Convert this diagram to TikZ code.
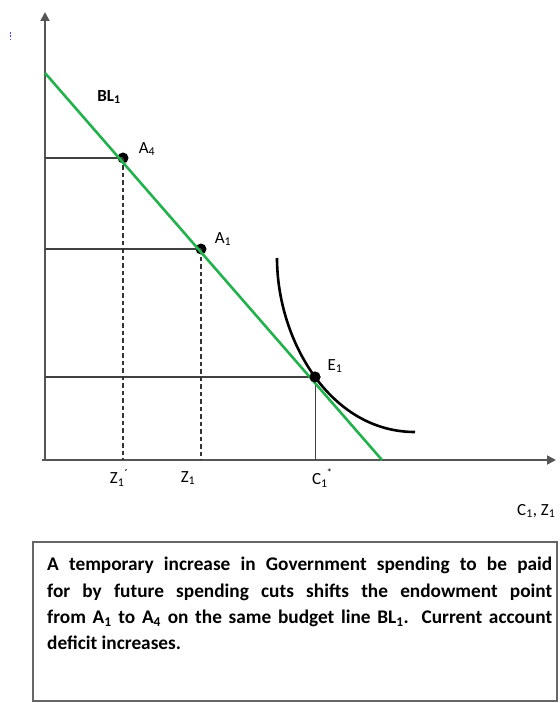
\documentclass[tikz,border=0pt]{standalone}
\usepackage{fontspec}
\setmainfont{Carlito}
\usetikzlibrary{arrows.meta}
\definecolor{blgreen}{RGB}{34,177,76}
\definecolor{axgray}{RGB}{85,85,85}
\newcommand{\sbs}[1]{\textsubscript{#1}}
\begin{document}
\begin{tikzpicture}[x=1pt,y=-1pt,
  axis/.style={axgray,line width=1.8pt,-{Triangle[length=9pt,width=9pt]}},
  guide/.style={black!75,line width=1.2pt},
  dguide/.style={black!80,line width=1.1pt,dash pattern=on 4.5pt off 3pt},
  dot/.style={circle,fill=black,inner sep=0pt,minimum size=11pt},
  lbl/.style={font=\fontsize{17}{19}\selectfont,inner sep=1pt},
  boxtext/.style={font=\fontsize{19.3}{26.3}\selectfont\bfseries,inner sep=0pt,anchor=north west,align=left}]
\useasboundingbox (0,0) rectangle (559,703);
% axes
\coordinate (O) at (45,460);
\coordinate (ytip) at (45,12);
\coordinate (xorig) at (42,460);
\coordinate (xtip) at (556,460);
\draw[axis] (O) -- (ytip);
\draw[axis] (xorig) -- (xtip);
% points
\node[dot] (A4) at (123,158) {};
\node[dot] (A1) at (201,249) {};
\node[dot] (E1) at (315,377) {};
\coordinate (A4y) at (45,158);
\coordinate (A1y) at (45,249);
\coordinate (E1y) at (45,377);
\coordinate (A4x) at (123,460);
\coordinate (A1x) at (201,460);
\coordinate (E1x) at (315,460);
\draw[guide] (A4y) -- (A4.center);
\draw[guide] (A1y) -- (A1.center);
\draw[guide] (E1y) -- (E1.center);
\draw[dguide] (A4.center) -- (A4x);
\draw[dguide] (A1.center) -- (A1x);
\draw[guide,line width=1pt] (E1.center) -- (E1x);
% budget line
\coordinate (BLtop) at (45,73);
\coordinate (BLbot) at (382,460);
\draw[blgreen,line width=2.6pt] (BLtop) -- (BLbot);
% indifference curve
\coordinate (ICs) at (277,258);
\coordinate (ICe) at (415,432);
\draw[black,line width=2.6pt] (ICs) .. controls (277,340) and (330,432) .. (ICe);
\node[dot] at (E1) {};
% labels
\node[lbl,font=\fontsize{17}{19}\selectfont\bfseries] (BL) at (109,97) {BL\sbs{1}};
\node[lbl] (lA4) at (147,149) {A\sbs{4}};
\node[lbl] (lA1) at (223,239) {A\sbs{1}};
\node[lbl] (lE1) at (335,366) {E\sbs{1}};
\node[lbl] (lZp) at (119,478) {Z\sbs{1}\raisebox{0.6ex}{\fontsize{13}{13}\selectfont ´}};
\node[lbl] (lZ) at (188,478) {Z\sbs{1}};
\node[lbl] (lC) at (322,478) {C\sbs{1}\raisebox{1.0ex}{\fontsize{11}{11}\selectfont\kern-0.1em*}};
\node[lbl,anchor=west] (lax) at (516,511) {C\sbs{1}, Z\sbs{1}};
% stray mark
\coordinate (m1) at (10,32);
\coordinate (m2) at (10,40);
\draw[blue!70,line width=0.8pt,dash pattern=on 2pt off 1.5pt] (m1) -- (m2);
% text box
\coordinate (bx1) at (33,542);
\coordinate (bx2) at (557,701);
\draw[black!60,line width=1.6pt] (bx1) rectangle (bx2);
\node[boxtext] (txt) at (47,557) {%
\makebox[505pt][s]{A temporary increase in Government spending to be paid}\\
\makebox[505pt][s]{for by future spending cuts shifts the endowment point}\\
\makebox[505pt][s]{from A\sbs{1} to A\sbs{4} on the same budget line BL\sbs{1}. Current account}\\
deficit increases.};
\end{tikzpicture}
\end{document}
